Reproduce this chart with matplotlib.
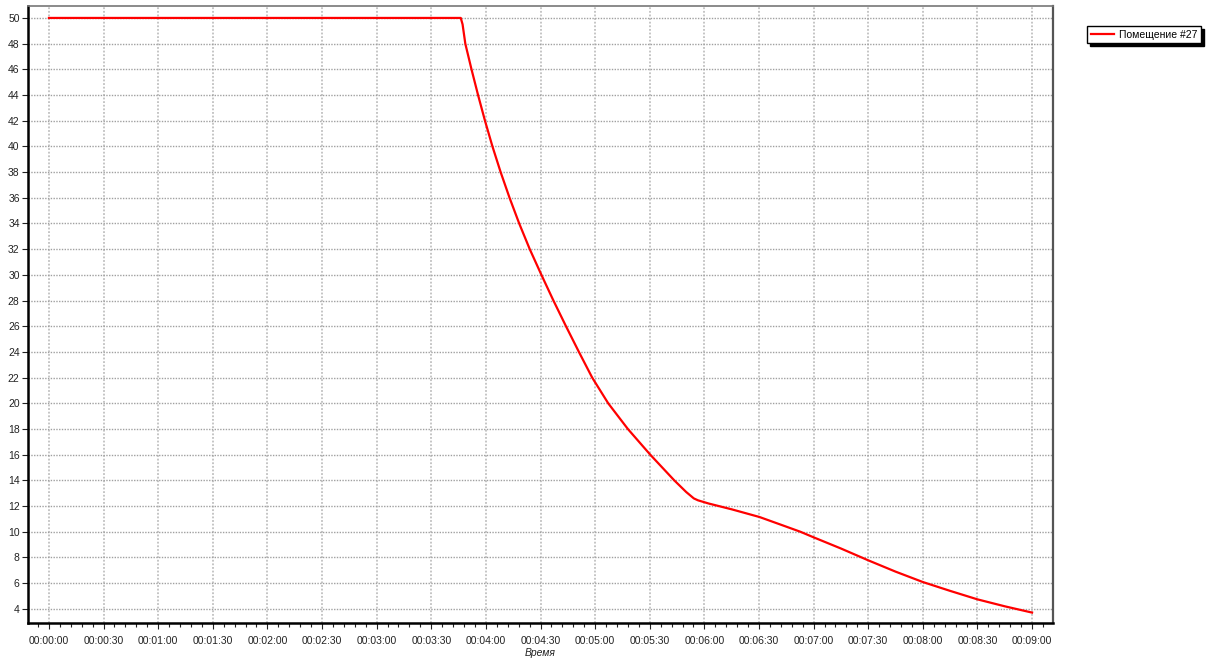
import matplotlib
matplotlib.use("Agg")
import matplotlib.pyplot as plt
from matplotlib.ticker import MultipleLocator, FuncFormatter

# Data (time in seconds, value)
time_s = [0, 226.2, 227.2, 228.7, 232.1, 235.7, 239.5, 243.6, 248.1, 253.0, 258.3,
          264.1, 270.5, 277.1, 284.0, 291.1, 298.4, 307.2, 318.0, 330.3, 343.5,
          350.0, 354.2, 356.5, 362.4, 375.0, 390.3, 405.0, 412.8, 420.0, 435.0,
          450.0, 465.0, 480.0, 495.0, 510.0, 525.0, 540.0]
values = [50, 50, 49.5, 48, 46, 44, 42, 40, 38, 36, 34,
          32, 30, 28, 26, 24, 22, 20, 18, 16, 14,
          13.1, 12.6, 12.45, 12.2, 11.75, 11.15, 10.4, 10.0, 9.57, 8.7,
          7.78, 6.9, 6.09, 5.4, 4.74, 4.2, 3.71]
series_name = "Помещение #27"
x_label = "Время"

plt.rcParams['font.family'] = ['Liberation Sans', 'DejaVu Sans']

fig = plt.figure(figsize=(12.12, 6.58), dpi=100)
ax = fig.add_axes([28/1212, 1-623/658, (1053-28)/1212, (623-6)/658])

ax.plot(time_s, values, color='#ff0000', lw=1.6, label=series_name,
        solid_joinstyle='round', antialiased=True)

ax.set_xlim(-11.5, 551.5)
ax.set_ylim(2.9, 50.93)

ax.xaxis.set_minor_locator(MultipleLocator(6))

def fmt_time(v, pos):
    v = int(round(v))
    return f"{v//3600:02d}:{(v%3600)//60:02d}:{v%60:02d}"

ax.set_xticks(list(range(0, 541, 30)))
ax.xaxis.set_major_formatter(FuncFormatter(fmt_time))
ax.set_yticks(list(range(4, 51, 2)))

ax.tick_params(axis='both', which='major', labelsize=7.5, colors='#222222', length=4, width=0.8)
ax.tick_params(axis='x', which='minor', length=3, width=0.8, color='#222222')
ax.tick_params(axis='x', pad=5)
ax.tick_params(axis='y', pad=2)

ax.grid(True, which='major', axis='y', color='#a0a0a0', linestyle=(0, (1, 1)), lw=1)
ax.grid(True, which='major', axis='x', color='#c0c0c0', linestyle=(0, (1, 1)), lw=1.3)

for s in ['left', 'bottom']:
    ax.spines[s].set_color('black')
    ax.spines[s].set_linewidth(1.8)
ax.spines['top'].set_color('#777777')
ax.spines['top'].set_linewidth(1.2)
ax.spines['right'].set_color('#555555')
ax.spines['right'].set_linewidth(1.6)

ax.set_xlabel(x_label, fontsize=7.5, style='italic', color='#222222', labelpad=2)

leg = ax.legend(loc='upper left', bbox_to_anchor=(1087/1212, 1-26/658),
                bbox_transform=fig.transFigure, fontsize=7.5, frameon=True,
                fancybox=False, edgecolor='black', framealpha=1,
                shadow={'color': 'black', 'alpha': 1}, handlelength=2.2,
                handletextpad=0.5, borderpad=0.35, borderaxespad=0)
leg.get_frame().set_linewidth(1.0)

fig.savefig("out.png", dpi=100)
